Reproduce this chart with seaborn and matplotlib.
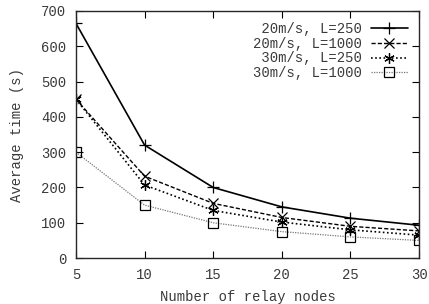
import pandas as pd
import seaborn as sns
from matplotlib import pyplot as plt

nodes = [5, 10, 15, 20, 25, 30]
v20_250 = [665, 320, 200, 145, 113, 93]
v20_1000 = [450, 232, 155, 115, 90, 77]
v30_250 = [450, 207, 135, 102, 80, 65]
v30_1000 = [300, 150, 100, 75, 60, 50]
labels = [' 20m/s, L=250', '20m/s, L=1000', ' 30m/s, L=250', '30m/s, L=1000']

sns.set_style('ticks')
plt.rcParams['font.family'] = ['Liberation Mono', 'DejaVu Sans Mono']

fig = plt.figure(figsize=(4.29, 3.04), dpi=100)
ax = fig.add_axes([0.177, 0.151, 0.800, 0.813])

series = [v20_250, v20_1000, v30_250, v30_1000]
styles = [
    dict(color='black', linestyle='-', marker='+', lw=1.2, ms=8, mew=0.9),
    dict(color='black', linestyle=(0, (3, 1.5)), marker='x', lw=1.0, ms=6.5, mew=0.9),
    dict(color='black', linestyle=(0, (1, 1.5)), marker=(6, 2, 0), lw=1.2, ms=7.5, mew=0.9),
    dict(color='#777777', linestyle=(0, (1, 1)), marker='s', lw=0.9, ms=6.5, mew=0.9,
         mfc='none'),
]
for vals, lab, st in zip(series, labels, styles):
    df = pd.DataFrame({'nodes': nodes, 'time': vals})
    sns.lineplot(data=df, x='nodes', y='time', label=lab, ax=ax, mec='black', **st)

ax.set_xlim(5, 30)
ax.set_ylim(0, 700)
ax.set_xticks(nodes)
ax.set_yticks(range(0, 701, 100))
ax.tick_params(direction='in', top=True, right=True, labelsize=10, length=5,
               pad=7, colors='black', labelcolor='#3a3a3a')
for s in ax.spines.values():
    s.set_visible(True)
    s.set_linewidth(1.0)
ax.set_xlabel('Number of relay nodes', fontsize=10, color='#3a3a3a', labelpad=6)
ax.set_ylabel('Average time (s)', fontsize=10, color='#3a3a3a', labelpad=12)

leg = ax.legend(loc='upper right', markerfirst=False, frameon=False, fontsize=10,
                handlelength=2.7, labelspacing=0.05, borderaxespad=0.4,
                handletextpad=0.6)
for t in leg.get_texts():
    t.set_color('#3a3a3a')

fig.savefig('out.png', dpi=100)
